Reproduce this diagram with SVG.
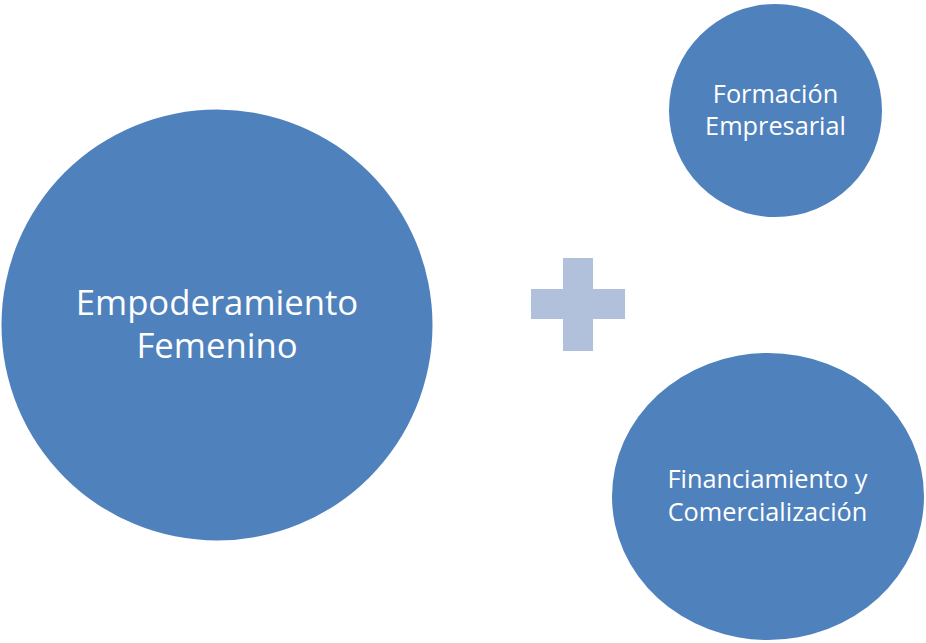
<svg xmlns="http://www.w3.org/2000/svg" width="926" height="643" viewBox="0 0 926 643">
<style>
.node{fill:#4F81BD}
.lbl{fill:#FFFFFF;font-family:"Open Sans","Liberation Sans",sans-serif;text-anchor:middle}
.big{font-size:34.7px}
.small{font-size:25.3px}
.plus{fill:#B2C1DB}
</style>
<rect width="926" height="643" fill="#FFFFFF"/>
<g id="empoderamiento">
<circle class="node" cx="217" cy="325" r="215.5"/>
<text class="lbl big" x="217" y="315">Empoderamiento</text>
<text class="lbl big" x="217" y="358">Femenino</text>
</g>
<g id="formacion">
<ellipse class="node" cx="775.5" cy="110.5" rx="106.5" ry="106.5"/>
<text class="lbl small" x="775.5" y="103">Formación</text>
<text class="lbl small" x="775.5" y="135">Empresarial</text>
</g>
<g id="financiamiento">
<ellipse class="node" cx="768" cy="496.5" rx="156" ry="143.5"/>
<text class="lbl small" x="767.5" y="488">Financiamiento y</text>
<text class="lbl small" x="767.5" y="521">Comercialización</text>
</g>
<g id="connectors">
<path id="plus" class="plus" d="M563,258 H593 V289 H625 V319 H593 V351 H563 V319 H531 V289 H563 Z"/>
</g>
</svg>
